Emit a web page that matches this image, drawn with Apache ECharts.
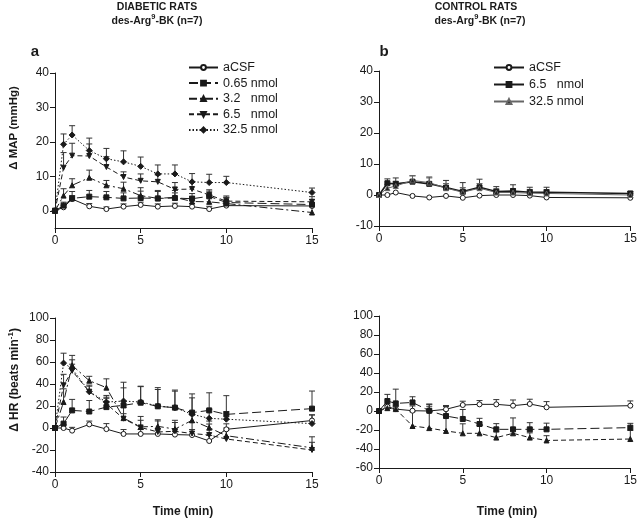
<!DOCTYPE html>
<html>
<head>
<meta charset="utf-8">
<script src="https://cdn.jsdelivr.net/npm/echarts@6/dist/echarts.min.js"></script>
<style>html,body{margin:0;padding:0;background:#fff}#c{width:640px;height:520px}</style>
</head>
<body>
<div id="c"></div>
<script>
// ---- data ----
const times = [0, 0.5, 1, 2, 3, 4, 5, 6, 7, 8, 9, 10, 15];
const xTicks = [0, 5, 10, 15];
const mapTicksA = [0, 10, 20, 30, 40];

// Panel a: diabetic MAP
const a_aCSF = [0, 1, 3.4, 1.3, 0.5, 1.2, 1.7, 1.2, 1.4, 1.2, 0.5, 1.5, 1.4];
const a_aCSF_err = [0, 0.6, 1, 0.8, 0.6, 0.8, 0.8, 0.8, 0.8, 0.8, 0.8, 0.8, 0.8];
const a_065 = [0, 1.5, 3.6, 4.1, 3.9, 3.6, 3.7, 3.6, 3.7, 3.5, 4.2, 2.4, 1.8];
const a_065_err = [0, 1, 2, 1.8, 1.7, 1.6, 2, 2, 1.5, 1.5, 1.5, 1.5, 1.5];
const a_32 = [0, 4.4, 7.4, 9.6, 7.4, 6.4, 4.4, 3.6, 3.9, 2.7, 2.6, 2.1, -0.5];
const a_32_err = [0, 2, 1.9, 2.2, 1.4, 1.9, 2.3, 2.3, 2, 1.5, 1.8, 1.8, 2.3];
const a_65 = [0, 12.5, 16, 15.9, 12.7, 9.8, 8.7, 8.4, 6.2, 6.3, 4.6, 2.8, 2.6];
const a_65_err = [0, 4.4, 3.6, 3.5, 3, 1.5, 2, 2, 2, 2, 1.5, 1.5, 1.5];
const a_325 = [0, 19.3, 22, 17.5, 15.1, 14.2, 12.9, 10.7, 10.7, 8.4, 8.2, 8.2, 5.3];
const a_325_err = [0, 3, 2.7, 3.6, 3, 3.2, 2.7, 2.6, 2.6, 2.4, 2.4, 1.8, 1.3];

// Panel b: control MAP
const b_aCSF = [0, 0, 0.8, -0.3, -0.8, -0.3, -0.9, -0.2, 0, 0, -0.2, -0.8, -0.9];
const b_65 = [0, 3.8, 3.6, 4.3, 3.6, 2.4, 1.1, 2.5, 1.1, 1.3, 0.9, 0.9, 0.5];
const b_65_err = [0, 1.4, 1.9, 1.9, 2.2, 2.3, 2.9, 2.6, 1.6, 2, 1.6, 1.6, 0.6];
const b_325 = [0, 2.2, 2.9, 4.7, 4, 2.2, 0.9, 2.2, 0.8, 0.8, 0.6, 0.5, 0];
const b_325_err = [0, 1.2, 1.5, 1.5, 1.5, 1.5, 1.5, 1.5, 1.2, 1.2, 1.2, 1.2, 0.5];

// Panel c: diabetic HR
const c_aCSF = [0, 0, -2.4, 3.3, -1, -5.4, -5.4, -5.4, -6, -6.4, -11.8, -1.2, 6.8];
const c_aCSF_err = [0, 3, 3, 3, 5, 4, 4, 5, 5, 5, 5, 5, 5];
const c_065 = [0, 4, 16, 15, 19, 20.6, 23, 19.7, 18.5, 14, 16, 12.4, 17.6];
const c_065_err = [0, 6, 10, 10, 9, 21, 15, 17, 16, 17, 16, 17, 16];
const c_32 = [0, 23.6, 57, 43, 36.7, 9, 1, 1.5, -1, 7, 0.3, -7, -18];
const c_32_err = [0, 12, 5, 4, 8, 4, 6, 6, 6, 6, 6, 5, 5];
const c_65 = [0, 38.8, 52, 33, 22, 8.5, 0.5, -3.6, -3, -5, -6.4, -10, -20];
const c_65_err = [0, 10, 6, 5, 5, 10, 10, 10, 10, 10, 10, 10, 12];
const c_325 = [0, 59, 54, 33, 23.6, 24.5, 23.6, 20, 18.5, 12.4, 8.8, 8, 4];
const c_325_err = [0, 9, 12, 6, 6, 12, 14, 15, 15, 15, 8, 7, 8];

// Panel d: control HR
const d_aCSF = [0, 4.5, 2, 0.3, 0, 1.8, 6.3, 7, 7, 5.6, 7.4, 3.9, 5.6];
const d_aCSF_err = [0, 3, 3, 5, 5, 4, 4, 4, 5, 6, 5, 6, 5];
const d_65 = [0, 10.5, 8, 9, 0.3, -5.3, -8.4, -13.7, -19.3, -19.3, -19.3, -19.3, -17.5];
const d_65_err = [0, 7, 15, 6, 7, 10, 10, 6, 6, 12, 7, 6.5, 4.5];
const d_325 = [0, 3, 2, -15.8, -18, -21, -23.5, -23.5, -28, -23.5, -28, -31, -29.5];
const d_325_err = [0, 3, 3, 15, 25, 22, 10, 8, 6, 6, 5, 5, 9];

// ---- styling helpers ----
const FONT = 'Liberation Sans, Arial, Helvetica, sans-serif';
const INK = '#1a1a1a';
const invTri = 'path://M0,0L10,0L5,9Z';
const DASH_LONG = [9, 4];
const DASH_DOT = [8, 3, 2, 3];
const DASH = [5, 3];
const DOT = [1.5, 2];

function pts(vals) { return times.map((t, i) => [t, vals[i]]); }
function errPts(vals, errs) { return times.map((t, i) => [t, vals[i], errs[i]]); }

function line(name, g, vals, o) {
  return {
    name: name, type: 'line', xAxisIndex: g, yAxisIndex: g,
    data: pts(vals), symbol: o.symbol, symbolSize: o.size || 5,
    showSymbol: true, animation: false, z: 5,
    lineStyle: { color: o.color || INK, width: o.width || 1, type: o.dash || 'solid' },
    itemStyle: { color: o.fill || (o.color || INK), borderColor: o.color || INK, borderWidth: 1 },
    emphasis: { disabled: true }
  };
}
function errs(g, vals, e, color) {
  const c = color || '#333';
  return {
    type: 'custom', xAxisIndex: g, yAxisIndex: g, z: 3, animation: false, silent: true,
    data: errPts(vals, e), encode: { x: 0, y: 1 },
    renderItem: function (params, api) {
      const x = api.value(0), y = api.value(1), er = api.value(2);
      if (!er) return null;
      const p0 = api.coord([x, y]), p1 = api.coord([x, y + er]);
      return {
        type: 'group', children: [
          { type: 'line', shape: { x1: p0[0], y1: p0[1], x2: p1[0], y2: p1[1] }, style: { stroke: c, lineWidth: 1 } },
          { type: 'line', shape: { x1: p1[0] - 3, y1: p1[1], x2: p1[0] + 3, y2: p1[1] }, style: { stroke: c, lineWidth: 1 } }
        ]
      };
    }
  };
}

const grids = [
  { left: 55, width: 257, top: 73, height: 155 },
  { left: 379, width: 256, top: 71, height: 155 },
  { left: 55, width: 257, top: 318, height: 154 },
  { left: 379, width: 256, top: 316, height: 152 }
];
function xAx(g) {
  return {
    gridIndex: g, type: 'value', min: 0, max: 15, interval: 5,
    axisLine: { onZero: false, lineStyle: { color: INK, width: 1 } },
    axisTick: { length: 5, lineStyle: { color: INK } },
    axisLabel: { color: INK, fontSize: 12, fontFamily: FONT, margin: 7 },
    splitLine: { show: false }
  };
}
function yAx(g, min, max, interval, custom) {
  const ax = {
    gridIndex: g, type: 'value', min: min, max: max, interval: interval,
    axisLine: { show: true, onZero: false, lineStyle: { color: INK, width: 1 } },
    axisTick: { show: true, length: 5, lineStyle: { color: INK } },
    axisLabel: { color: INK, fontSize: 12, fontFamily: FONT, margin: 6 },
    splitLine: { show: false }
  };
  if (custom) {
    ax.axisLabel.customValues = custom;
    ax.axisTick.customValues = custom;
  }
  return ax;
}

const labelMap = {
  'a-aCSF': 'aCSF', 'a-0.65': '0.65 nmol', 'a-3.2': '3.2   nmol', 'a-6.5': '6.5   nmol', 'a-32.5': '32.5 nmol',
  'b-aCSF': 'aCSF', 'b-6.5': '6.5   nmol', 'b-32.5': '32.5 nmol'
};

const series = [
  // a
  errs(0, a_aCSF, a_aCSF_err), errs(0, a_065, a_065_err), errs(0, a_32, a_32_err), errs(0, a_65, a_65_err), errs(0, a_325, a_325_err),
  line('a-aCSF', 0, a_aCSF, { symbol: 'circle', fill: '#fff', size: 5 }),
  line('a-0.65', 0, a_065, { symbol: 'rect', size: 5, dash: DASH_LONG }),
  line('a-3.2', 0, a_32, { symbol: 'triangle', size: 5, dash: DASH_DOT }),
  line('a-6.5', 0, a_65, { symbol: invTri, size: 5, dash: DASH }),
  line('a-32.5', 0, a_325, { symbol: 'diamond', size: 6, dash: DOT }),
  // b
  errs(1, b_65, b_65_err), errs(1, b_325, b_325_err, '#666'),
  line('b-aCSF', 1, b_aCSF, { symbol: 'circle', fill: '#fff', size: 5 }),
  line('b-6.5', 1, b_65, { symbol: 'rect', size: 5, width: 1.6 }),
  line('b-32.5', 1, b_325, { symbol: 'triangle', size: 5, color: '#666', fill: '#222' }),
  // c
  errs(2, c_aCSF, c_aCSF_err), errs(2, c_065, c_065_err), errs(2, c_32, c_32_err), errs(2, c_65, c_65_err), errs(2, c_325, c_325_err),
  line('c-aCSF', 2, c_aCSF, { symbol: 'circle', fill: '#fff', size: 5 }),
  line('c-0.65', 2, c_065, { symbol: 'rect', size: 5, dash: DASH_LONG }),
  line('c-3.2', 2, c_32, { symbol: 'triangle', size: 5, dash: DASH_DOT }),
  line('c-6.5', 2, c_65, { symbol: invTri, size: 5, dash: DASH }),
  line('c-32.5', 2, c_325, { symbol: 'diamond', size: 6, dash: DOT }),
  // d
  errs(3, d_aCSF, d_aCSF_err), errs(3, d_65, d_65_err), errs(3, d_325, d_325_err),
  line('d-aCSF', 3, d_aCSF, { symbol: 'circle', fill: '#fff', size: 5 }),
  line('d-6.5', 3, d_65, { symbol: 'rect', size: 5, dash: DASH_LONG }),
  line('d-32.5', 3, d_325, { symbol: 'triangle', size: 5, dash: DASH })
];

const boldSup = {
  b: { fontSize: 10.5, fontWeight: 'bold', fontFamily: FONT, fill: INK, color: INK, verticalAlign: 'bottom', lineHeight: 13 },
  s: { fontSize: 7.5, fontWeight: 'bold', fontFamily: FONT, fill: INK, color: INK, verticalAlign: 'top', padding: [0, 0, 6, 0] }
};
function txt(text, x, y, size, extra) {
  return Object.assign({
    type: 'text', x: x, y: y, silent: true,
    style: { text: text, font: 'bold ' + size + 'px ' + FONT, fill: INK, align: 'center', verticalAlign: 'middle' }
  }, extra || {});
}

const legendText = { fontSize: 12.5, fontFamily: FONT, color: INK, lineHeight: 13 };
const option = {
  animation: false,
  backgroundColor: '#fff',
  grid: grids,
  xAxis: [xAx(0), xAx(1), xAx(2), xAx(3)],
  yAxis: [
    yAx(0, -5, 40, 10, mapTicksA),
    yAx(1, -10, 40, 10),
    yAx(2, -40, 100, 20),
    yAx(3, -60, 100, 20)
  ],
  legend: [
    {
      orient: 'vertical', left: 188, top: 61, padding: 0, itemWidth: 29, itemHeight: 6, itemGap: 2.6,
      data: ['a-aCSF', 'a-0.65', 'a-3.2', 'a-6.5', 'a-32.5'],
      formatter: n => labelMap[n], selectedMode: false,
      textStyle: legendText
    },
    {
      orient: 'vertical', left: 493, top: 61, padding: 0, itemWidth: 30, itemHeight: 6, itemGap: 4,
      data: ['b-aCSF', 'b-6.5', 'b-32.5'],
      formatter: n => labelMap[n], selectedMode: false,
      textStyle: legendText
    }
  ],
  graphic: [
    txt('DIABETIC RATS', 157, 7, 10.5),
    { type: 'text', x: 157, y: 20, silent: true, style: { text: '{b|des-Arg}{s|9}{b|-BK (n=7)}', rich: boldSup, align: 'center', verticalAlign: 'middle' } },
    txt('CONTROL RATS', 476, 7, 10.5),
    { type: 'text', x: 480, y: 20, silent: true, style: { text: '{b|des-Arg}{s|9}{b|-BK (n=7)}', rich: boldSup, align: 'center', verticalAlign: 'middle' } },
    txt('a', 35, 52, 15),
    txt('b', 384, 52, 15),
    txt('Δ MAP (mmHg)', 14, 128, 11.5, { rotation: Math.PI / 2 }),
    {
      type: 'text', x: 14, y: 380, rotation: Math.PI / 2, silent: true,
      style: {
        text: '{b|Δ HR (beats min}{s|-1}{b|)}', align: 'center', verticalAlign: 'middle',
        rich: {
          b: { fontSize: 12, fontWeight: 'bold', fontFamily: FONT, fill: INK, verticalAlign: 'bottom', lineHeight: 14 },
          s: { fontSize: 8, fontWeight: 'bold', fontFamily: FONT, fill: INK, verticalAlign: 'top', padding: [0, 0, 6, 0] }
        }
      }
    },
    txt('Time (min)', 183, 512, 12),
    txt('Time (min)', 507, 512, 12)
  ],
  series: series
};

const chart = echarts.init(document.getElementById('c'), null, { renderer: 'canvas' });
chart.setOption(option);
</script>
</body>
</html>
